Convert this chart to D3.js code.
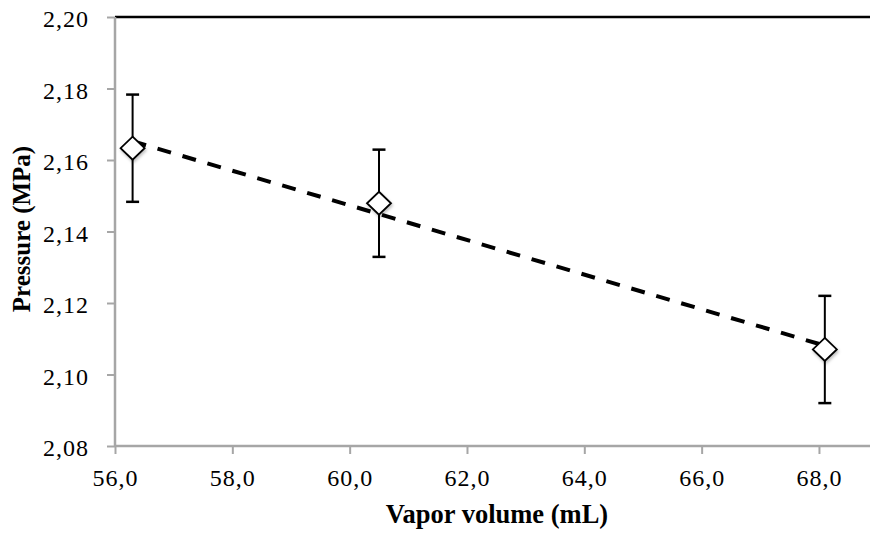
<!DOCTYPE html>
<html>
<head>
<meta charset="utf-8">
<script src="https://cdn.jsdelivr.net/npm/d3@7"></script>
<style>
  body { margin: 0; background: #fff; }
  svg { display: block; }
  text { font-family: "Liberation Serif", "Times New Roman", serif; fill: #000; }
</style>
</head>
<body>
<svg width="870" height="533"></svg>
<script>
// data
var volumes = [56.3, 60.5, 68.1];
var pressures = [2.1633, 2.1479, 2.1070];
var errors = [0.015, 0.015, 0.015];
var xTicks = [56, 58, 60, 62, 64, 66, 68];
var yTicks = [2.08, 2.10, 2.12, 2.14, 2.16, 2.18, 2.20];

var svg = d3.select("svg"),
    width = +svg.attr("width"),
    height = +svg.attr("height");

var mLeft = 115, mRight = 870, mTop = 17, mBottom = 446;

var x = d3.scaleLinear().domain([56, 68.87]).range([mLeft, mRight]);
var y = d3.scaleLinear().domain([2.08, 2.20]).range([mBottom, mTop]);

var comma = function(d, n) { return d.toFixed(n).replace(".", ","); };

// drop shadow for the markers
var defs = svg.append("defs");
var f = defs.append("filter").attr("id", "shadow")
    .attr("x", "-50%").attr("y", "-50%").attr("width", "200%").attr("height", "200%");
f.append("feDropShadow").attr("dx", 1).attr("dy", 2).attr("stdDeviation", 1.5)
    .attr("flood-color", "#000").attr("flood-opacity", 0.25);

// top border
svg.append("line")
    .attr("x1", mLeft).attr("x2", mRight)
    .attr("y1", mTop).attr("y2", mTop)
    .attr("stroke", "#000").attr("stroke-width", 2.5);

// y axis
var yAxis = svg.append("g")
    .attr("transform", "translate(" + mLeft + ",0)")
    .call(d3.axisLeft(y).tickValues(yTicks).tickSize(8).tickPadding(18)
        .tickFormat(d => comma(d, 2)));

// x axis
var xAxis = svg.append("g")
    .attr("transform", "translate(0," + mBottom + ")")
    .call(d3.axisBottom(x).tickValues(xTicks).tickSize(8).tickPadding(14)
        .tickFormat(d => comma(d, 1)));

[yAxis, xAxis].forEach(function(g) {
    g.select(".domain").attr("stroke", "#a6a6a6").attr("stroke-width", 2.5);
    g.selectAll(".tick line").attr("stroke", "#a6a6a6").attr("stroke-width", 2);
    g.selectAll(".tick text").attr("font-size", 24).attr("letter-spacing", 1)
        .attr("font-family", "Liberation Serif").attr("fill", "#000");
});
yAxis.select(".domain").attr("d", "M0," + mBottom + "V" + mTop);
xAxis.select(".domain").attr("d", "M" + mLeft + ",0H" + mRight);
yAxis.selectAll(".tick text").attr("dy", "0.4em");
xAxis.selectAll(".tick text").attr("dy", "0.75em");

// trendline: least squares fit through the points
var mx = d3.mean(volumes), my = d3.mean(pressures);
var sxy = d3.sum(volumes, (v, i) => (v - mx) * (pressures[i] - my));
var sxx = d3.sum(volumes, v => (v - mx) * (v - mx));
var slope = sxy / sxx, icpt = my - slope * mx;
var x0 = d3.min(volumes), x1 = d3.max(volumes);
svg.append("line")
    .attr("x1", x(x0)).attr("y1", y(icpt + slope * x0))
    .attr("x2", x(x1)).attr("y2", y(icpt + slope * x1))
    .attr("stroke", "#000").attr("stroke-width", 4)
    .attr("stroke-dasharray", "14,12");

var pts = volumes.map((v, i) => ({ v: v, p: pressures[i], e: errors[i] }));

// error bars
var eb = svg.append("g").selectAll("g").data(pts).enter().append("g")
    .attr("stroke", "#000").attr("stroke-width", 2);
eb.append("line")
    .attr("x1", d => x(d.v)).attr("x2", d => x(d.v))
    .attr("y1", d => y(d.p + d.e)).attr("y2", d => y(d.p - d.e));
eb.append("line")
    .attr("x1", d => x(d.v) - 6.5).attr("x2", d => x(d.v) + 6.5)
    .attr("y1", d => y(d.p + d.e)).attr("y2", d => y(d.p + d.e))
    .attr("stroke-width", 2.5);
eb.append("line")
    .attr("x1", d => x(d.v) - 6.5).attr("x2", d => x(d.v) + 6.5)
    .attr("y1", d => y(d.p - d.e)).attr("y2", d => y(d.p - d.e))
    .attr("stroke-width", 2.5);

// diamond markers
svg.append("g").selectAll("path").data(pts).enter().append("path")
    .attr("d", "M0,-11.5L12,0L0,11.5L-12,0Z")
    .attr("transform", d => "translate(" + x(d.v) + "," + y(d.p) + ")")
    .attr("fill", "#fff").attr("stroke", "#000").attr("stroke-width", 1.8)
    .attr("filter", "url(#shadow)");

// axis titles
svg.append("text")
    .attr("x", 497).attr("y", 523)
    .attr("text-anchor", "middle")
    .attr("font-size", 26.5).attr("font-weight", "bold")
    .text("Vapor volume (mL)");

svg.append("text")
    .attr("transform", "translate(30,229) rotate(-90)")
    .attr("text-anchor", "middle")
    .attr("font-size", 25).attr("font-weight", "bold")
    .text("Pressure (MPa)");
</script>
</body>
</html>
